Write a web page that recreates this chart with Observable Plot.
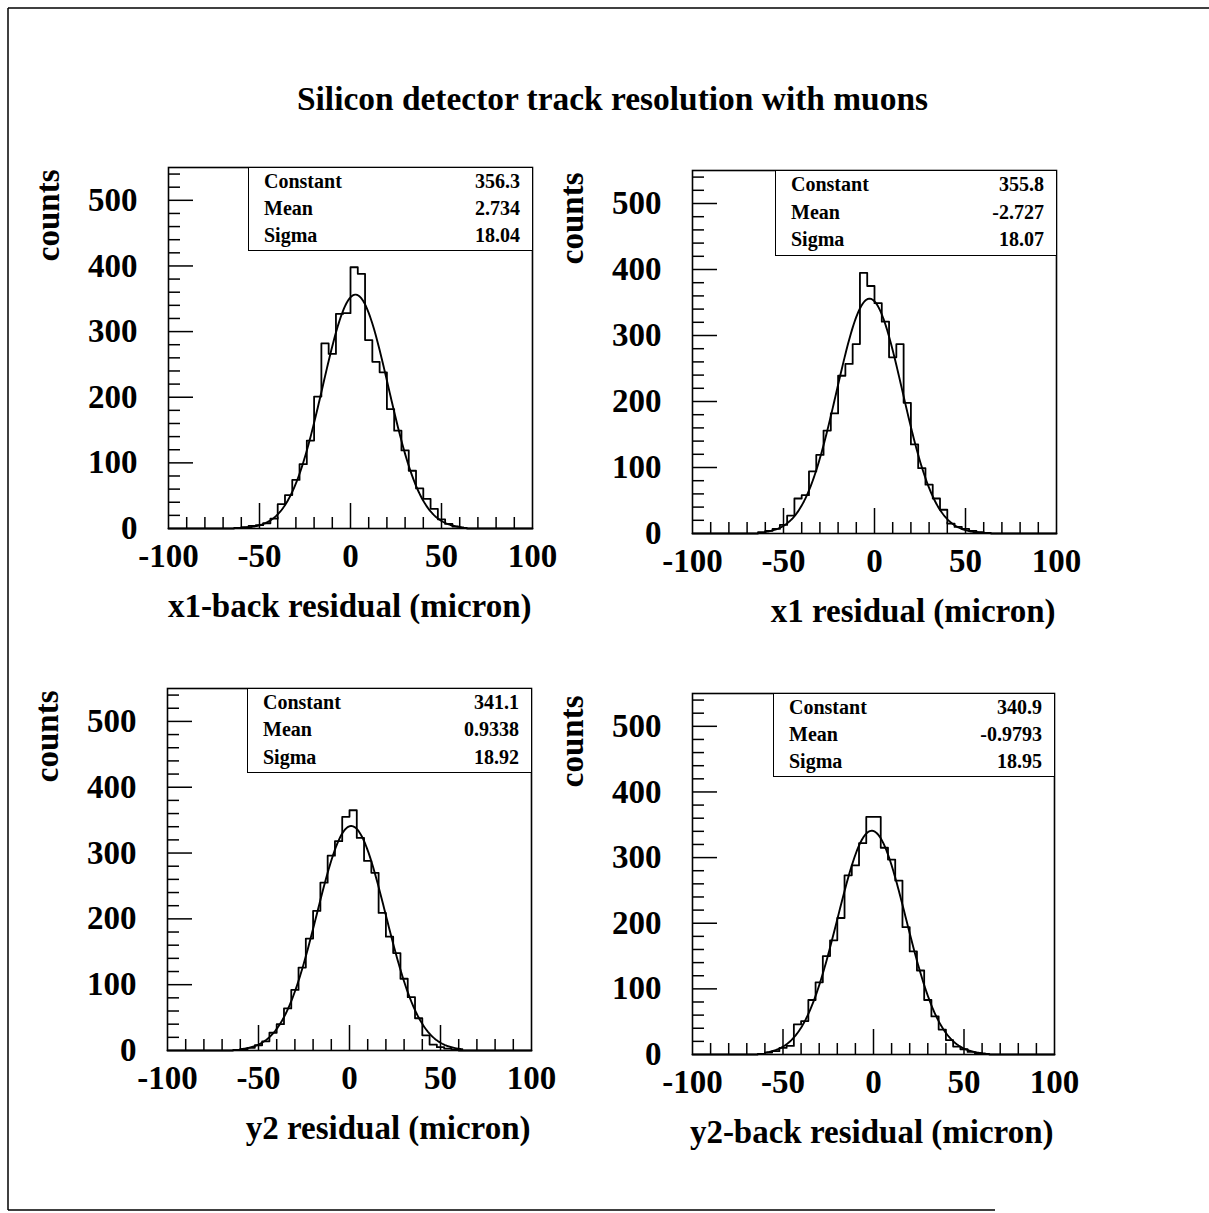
<!DOCTYPE html>
<html><head><meta charset="utf-8">
<script src="https://cdn.jsdelivr.net/npm/d3@7"></script>
<script src="https://cdn.jsdelivr.net/npm/@observablehq/plot@0.6"></script>
<style>
body{margin:0;background:#fff;}
#page{position:relative;width:1209px;height:1213px;overflow:hidden;background:#fff;font-family:"Liberation Serif","Times New Roman",serif;}
.plotwrap{position:absolute;}
.stats{position:absolute;border:1.5px solid #000;box-sizing:border-box;background:#fff;font-weight:bold;font-size:20px;color:#000;}
.stats .row{display:flex;justify-content:space-between;padding:0 12px 0 15px;}
</style></head><body><div id="page"></div>
<script>
// ---- data ----
const title = "Silicon detector track resolution with muons";
const xLabels = ["x1-back residual (micron)", "x1 residual (micron)", "y2 residual (micron)", "y2-back residual (micron)"];
const yLabel = "counts";
const binWidth = 4;
const lowEdges = [-64,-60,-56,-52,-48,-44,-40,-36,-32,-28,-24,-20,-16,-12,-8,-4,0,4,8,12,16,20,24,28,32,36,40,44,48,52,56,60];
const countsX1Back = [1,2,4,5,8,15,37,51,74,98,134,201,282,266,327,328,398,388,287,254,238,182,149,119,88,61,45,30,14,7,3,1];
const countsX1     = [2,4,7,13,27,53,58,94,119,156,182,239,257,287,395,375,349,321,267,287,198,135,99,74,53,36,15,10,7,4,2,1];
const countsY2     = [1,2,4,8,14,27,40,64,92,126,170,212,255,296,318,355,365,323,288,270,209,173,148,109,81,49,23,9,5,3,1,0];
const countsY2Back = [1,3,5,10,13,46,51,83,110,150,174,208,273,288,322,362,362,315,297,265,194,157,128,83,58,38,22,12,8,4,2,1];
const fitConstant = [356.3, 355.8, 341.1, 340.9];
const fitMean     = [2.734, -2.727, 0.9338, -0.9793];
const fitSigma    = [18.04, 18.07, 18.92, 18.95];
const fitText = [["356.3","2.734","18.04"],["355.8","-2.727","18.07"],["341.1","0.9338","18.92"],["340.9","-0.9793","18.95"]];
const statNames = ["Constant","Mean","Sigma"];
const xTickLabels = [-100,-50,0,50,100];
const xMajorTicks = [-50,0,50];
const xMinorTicks = [-90,-80,-70,-60,-40,-30,-20,-10,10,20,30,40,60,70,80,90];
const yTickLabels = [0,100,200,300,400,500];
const yMajorTicks = [100,200,300,400,500];
const yMinorTicks = [20,40,60,80,120,140,160,180,220,240,260,280,320,340,360,380,420,440,460,480,520,540];
const allCounts = [countsX1Back, countsX1, countsY2, countsY2Back];

// ---- layout ----
const frames = [
  {L:168,T:167,R:532,B:528, boxL:248, boxB:251},
  {L:692,T:170,R:1056,B:533, boxL:775, boxB:256},
  {L:167,T:688,R:531,B:1050, boxL:247, boxB:773},
  {L:692,T:693,R:1054,B:1054, boxL:773, boxB:777}
];
const FONT = '"Liberation Serif","Times New Roman",serif';
const page = document.getElementById("page");

// border + title
const deco = d3.create("svg").attr("width",1209).attr("height",1213)
  .style("position","absolute").style("left","0px").style("top","0px");
deco.append("line").attr("x1",8).attr("y1",8).attr("x2",1209).attr("y2",8).attr("stroke","#000").attr("stroke-width",1.5);
deco.append("line").attr("x1",8).attr("y1",8).attr("x2",8).attr("y2",1210).attr("stroke","#000").attr("stroke-width",1.5);
deco.append("line").attr("x1",8).attr("y1",1210).attr("x2",995).attr("y2",1210).attr("stroke","#000").attr("stroke-width",1.5);
deco.append("text").attr("x",612.5).attr("y",110).attr("text-anchor","middle")
  .attr("font-family",FONT).attr("font-weight","bold").attr("font-size",33)
  .attr("textLength",631).attr("lengthAdjust","spacingAndGlyphs").text(title);
page.appendChild(deco.node());

const ML=150, MT=10, MR=40, MB=100;
frames.forEach((f,k)=>{
  const fw = f.R-f.L, fh = f.B-f.T;
  const counts = allCounts[k];
  const steps = [{x:-100,y:0}]
    .concat(lowEdges.map((e,i)=>({x:e,y:counts[i]})))
    .concat([{x:lowEdges[lowEdges.length-1]+binWidth,y:0},{x:100,y:0}]);
  const C=fitConstant[k], m=fitMean[k], s=fitSigma[k];
  const fit = d3.range(-60,62.01,0.5).map(x=>({x, y: C*Math.exp(-0.5*((x-m)/s)**2)}));
  const chart = Plot.plot({
    width: ML+fw+MR, height: MT+fh+MB,
    marginLeft: ML, marginTop: MT, marginRight: MR, marginBottom: MB,
    x: {domain:[-100,100]},
    y: {domain:[0,550]},
    style: {fontFamily: FONT, fontSize:"33px", fontWeight:"bold", background:"transparent", overflow:"visible", color:"#000"},
    marks: [
      Plot.ruleX(xMinorTicks, {x:d=>d, insetTop: fh-11, stroke:"#000", strokeWidth:1.5}),
      Plot.ruleX(xMajorTicks, {x:d=>d, insetTop: fh-25, stroke:"#000", strokeWidth:1.5}),
      Plot.ruleY(yMinorTicks, {y:d=>d, insetRight: fw-12, stroke:"#000", strokeWidth:1.5}),
      Plot.ruleY(yMajorTicks, {y:d=>d, insetRight: fw-25, stroke:"#000", strokeWidth:1.5}),
      Plot.line(steps, {x:"x", y:"y", curve:"step-after", stroke:"#000", strokeWidth:1.8}),
      Plot.line(fit, {x:"x", y:"y", stroke:"#000", strokeWidth:1.9}),
      Plot.frame({stroke:"#000", strokeWidth:1.6}),
      Plot.axisX({ticks:xTickLabels, tickSize:0, tickPadding:15, label:null, tickFormat:d=>String(d), fontSize:33, fontWeight:"bold"}),
      Plot.axisY({ticks:yTickLabels, tickSize:0, tickPadding:31, label:null, tickFormat:d=>String(d), fontSize:33, fontWeight:"bold"}),
      Plot.text([yLabel], {text:d=>d, frameAnchor:"top-left", rotate:-90, textAnchor:"end", lineAnchor:"bottom", dx:-110, dy:2, fontSize:33, fontWeight:"bold"}),
      Plot.text([xLabels[k]], {text:d=>d, frameAnchor:"bottom-right", textAnchor:"end", lineAnchor:"bottom", dy:88, dx:-1, fontSize:33, fontWeight:"bold"})
    ]
  });
  const wrap = document.createElement("div");
  wrap.className = "plotwrap";
  wrap.style.left = (f.L-ML)+"px";
  wrap.style.top = (f.T-MT)+"px";
  wrap.appendChild(chart);
  page.appendChild(wrap);

  // stats box
  const box = document.createElement("div");
  box.className = "stats";
  const bh = f.boxB - f.T;
  box.style.left = f.boxL+"px"; box.style.top = f.T+"px";
  box.style.width = (f.R - f.boxL + 1)+"px"; box.style.height = bh+"px";
  const rh = (bh-3)/3;
  statNames.forEach((n,i)=>{
    const r = document.createElement("div");
    r.className = "row";
    r.style.height = rh+"px"; r.style.lineHeight = rh+"px";
    const a = document.createElement("span"); a.textContent = n;
    const b = document.createElement("span"); b.textContent = fitText[k][i];
    r.appendChild(a); r.appendChild(b);
    box.appendChild(r);
  });
  page.appendChild(box);
});
</script></body></html>
